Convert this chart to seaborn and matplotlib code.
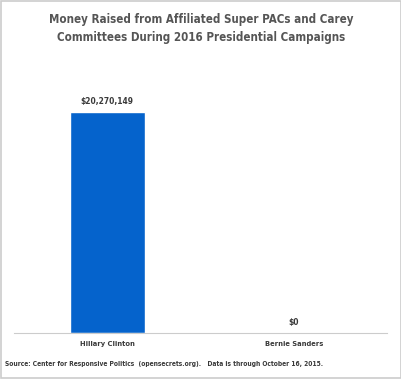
import matplotlib
matplotlib.use("Agg")
import matplotlib.pyplot as plt
import seaborn as sns
import pandas as pd
from matplotlib.patches import Rectangle

candidates = ["Hillary Clinton", "Bernie Sanders"]
raised = [20270149, 0]
value_labels = ["$20,270,149", "$0"]

sns.set_style("white")
plt.rcParams['font.family'] = ['DejaVu Sans']

df = pd.DataFrame({"candidate": candidates, "raised": raised})

fig = plt.figure(figsize=(4.02, 3.79), dpi=100)
ax = fig.add_axes([14 / 402, 46 / 379, 373 / 402, 263 / 379])

sns.barplot(data=df, x="candidate", y="raised", color="#0563CC", width=0.4,
            saturation=1, ax=ax)

ax.set_xlim(-0.5, 1.5)
ax.set_ylim(0, max(raised) * 263 / 221)

txt_kw = dict(fontweight="bold", color="#3a3a3a", fontstretch="condensed")
for i, (v, lab) in enumerate(zip(raised, value_labels)):
    ax.annotate(lab, (i, v), xytext=(0, 4), textcoords="offset points",
                ha="center", va="bottom", fontsize=6, **txt_kw)

ax.set_xticks([0, 1])
ax.set_xticklabels(candidates, fontsize=5.4, **txt_kw)
ax.tick_params(axis="x", which="major", length=0, pad=6)
ax.set_xticks([-0.5, 0.5, 1.5], minor=True)
ax.tick_params(axis="x", which="minor", length=4, color="#cccccc", width=0.8)
ax.set_yticks([])
ax.set_xlabel("")
ax.set_ylabel("")
for s in ["top", "right", "left"]:
    ax.spines[s].set_visible(False)
ax.spines["bottom"].set_color("#cccccc")
ax.spines["bottom"].set_linewidth(0.8)

title_kw = dict(ha="center", va="center", fontsize=8.3, fontweight="bold",
                color="#555555", fontstretch="condensed")
fig.text(0.5, 1 - 20 / 379, "Money Raised from Affiliated Super PACs and Carey", **title_kw)
fig.text(0.5, 1 - 38 / 379, "Committees During 2016 Presidential Campaigns", **title_kw)
fig.text(5 / 402, 1 - 364 / 379,
         "Source: Center for Responsive Politics  (opensecrets.org).   Data is through October 16, 2015.",
         ha="left", va="center", fontsize=4.75, **txt_kw)

fig.patches.append(Rectangle((0.002, 0.002), 0.996, 0.996, transform=fig.transFigure,
                             fill=False, edgecolor="#cccccc", linewidth=1.2))

fig.savefig("out.png", dpi=100)
